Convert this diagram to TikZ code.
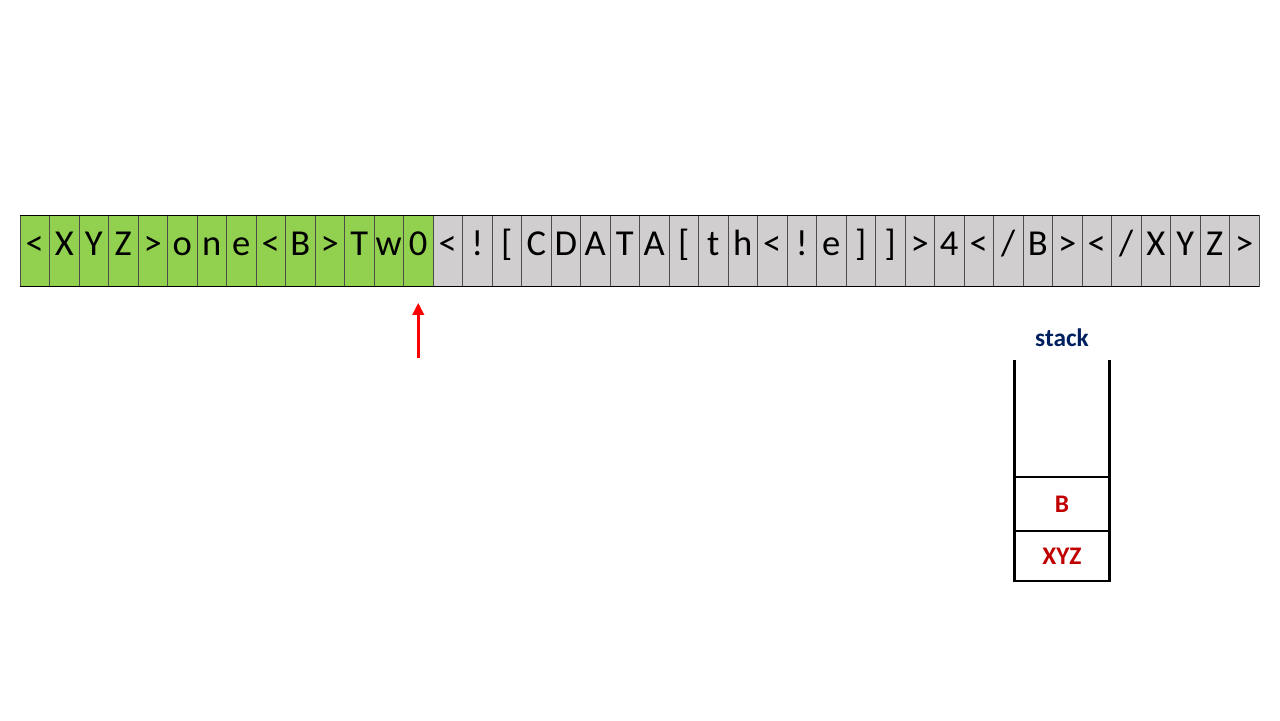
\documentclass[tikz,border=0pt]{standalone}
\usepackage{fontspec}
\setmainfont{Carlito}
\usepackage{xcolor}
\usetikzlibrary{arrows.meta,positioning,calc}
\definecolor{readgreen}{HTML}{92D050}
\definecolor{restgray}{HTML}{D0CECE}
\definecolor{stackblue}{HTML}{002060}
\definecolor{stackred}{HTML}{C00000}

\begin{document}
\begin{tikzpicture}[
    cell/.style={draw=black!70, thin, minimum width=0.7375cm, minimum height=1.775cm, text height=0.8em, text depth=0.06em, inner sep=0pt, outer sep=0pt, font=\fontsize{26}{30}\selectfont},
    done/.style={cell, fill=readgreen},
    todo/.style={cell, fill=restgray},
    slot/.style={draw, line width=2pt, minimum width=2.375cm, inner sep=0pt, outer sep=0pt, font=\fontsize{18}{22}\selectfont\bfseries, text=stackred},
    wall/.style={line width=2pt},
    ptr/.style={-{Triangle[length=3mm, width=2.8mm]}, line width=2pt, red},
]
\useasboundingbox (0,0) rectangle (32,-18);
% Input tape
\foreach \ch [count=\i] in {<,X,Y,Z,>,o,n,e,<,B,>,T,w,0,<,!,{[},C,D,A,T,A,{[},t,h,<,!,e,{]},{]},>,4,<,/,B,>,<,/,X,Y,Z,>}{
  \ifnum\i<15
    \node[done] (c\i) at ({0.5+(\i-0.5)*0.7375},-6.2625) {\ch};
  \else
    \node[todo] (c\i) at ({0.5+(\i-0.5)*0.7375},-6.2625) {\ch};
  \fi
}
\draw[black] (c1.north west) -- (c42.north east);
\draw[black] (c1.south west) -- (c42.south east);
% Read pointer
\coordinate (ptrfoot) at ([yshift=-1.8cm]c14.south);
\draw[ptr] (ptrfoot) -- ([yshift=-0.42cm]c14.south);
% Stack
\node[slot, minimum height=1.25cm] (sxyz) at (26.55,-13.9) {XYZ};
\node[slot, minimum height=1.35cm, above=0pt of sxyz] (sb) {B};
\coordinate (lwall) at ([yshift=2.925cm]sb.north west);
\coordinate (rwall) at ([yshift=2.925cm]sb.north east);
\draw[wall] (sb.north west) -- (lwall);
\draw[wall] (sb.north east) -- (rwall);
\node[font=\fontsize{18}{22}\selectfont\bfseries, text=stackblue, above=0.2cm of $(lwall)!0.5!(rwall)$] (stacklabel) {stack};
\end{tikzpicture}
\end{document}
